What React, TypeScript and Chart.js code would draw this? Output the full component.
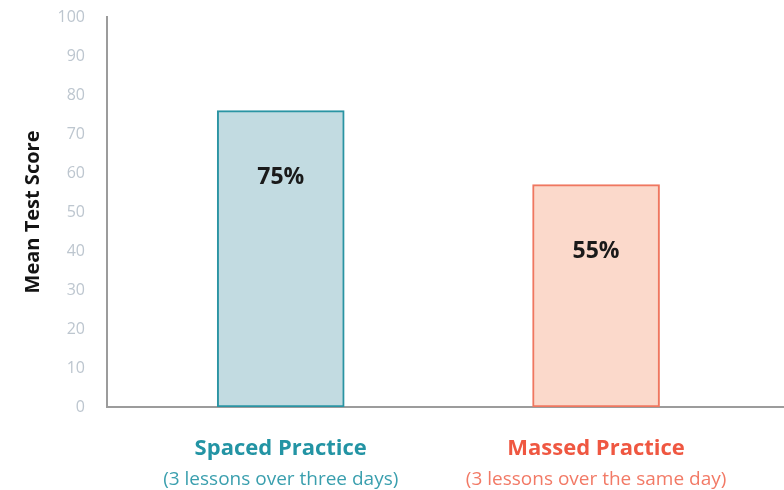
import React, { useEffect, useRef } from "react";
import { Chart, registerables } from "chart.js";

Chart.register(...registerables);

const categories = ["Spaced Practice", "Massed Practice"];
const subtitles = ["(3 lessons over three days)", "(3 lessons over the same day)"];
const scores = [76, 57];
const valueLabels = ["75%", "55%"];
const yTicks = [0, 10, 20, 30, 40, 50, 60, 70, 80, 90, 100];

const fills = ["#c2dbe1", "#fbd9cb"];
const borders = ["#2a94a3", "#ef7760"];
const titleColors = ["#2394a4", "#ef5741"];
const subColors = ["#3a9fae", "#f27a66"];

const FONT = "'Open Sans', 'Noto Sans', sans-serif";

const labelPlugin = {
  id: "customLabels",
  afterDatasetsDraw(chart: any) {
    const ctx = chart.ctx;
    const meta = chart.getDatasetMeta(0);
    const xs = chart.scales.x;
    ctx.save();
    ctx.textAlign = "center";
    ctx.textBaseline = "middle";
    meta.data.forEach((bar: any, i: number) => {
      ctx.fillStyle = "#1a1a1a";
      ctx.font = `bold 23px ${FONT}`;
      ctx.fillText(valueLabels[i], bar.x, bar.y + 67);
    });
    categories.forEach((c, i) => {
      const x = xs.getPixelForValue(i);
      ctx.fillStyle = titleColors[i];
      ctx.font = `bold 22px ${FONT}`;
      ctx.fillText(c, x, 449);
      ctx.fillStyle = subColors[i];
      ctx.font = `19px ${FONT}`;
      ctx.fillText(subtitles[i], x, 480);
    });
    ctx.restore();
  },
};

export default function App() {
  const ref = useRef<HTMLCanvasElement>(null);
  useEffect(() => {
    document.body.style.margin = "0";
    const chart = new Chart(ref.current!, {
      type: "bar",
      data: {
        datasets: [
          {
            data: scores.map((y, i) => ({ x: i, y })),
            backgroundColor: fills,
            borderColor: borders,
            borderWidth: 2,
            borderSkipped: false,
            barThickness: 127,
          },
        ],
      },
      options: {
        responsive: false,
        animation: false,
        layout: { padding: { top: 17, right: 0, left: 0, bottom: 0 } },
        plugins: { legend: { display: false }, tooltip: { enabled: false } },
        scales: {
          x: {
            type: "linear",
            offset: false,
            min: -0.551,
            max: 1.596,
            grid: { display: false },
            ticks: { display: false },
            border: { color: "#9c9c9c", width: 2 },
            afterFit: (s: any) => {
              s.height = 83;
              s.paddingLeft = 0;
              s.paddingRight = 0;
            },
          },
          y: {
            min: 0,
            max: 100,
            afterBuildTicks: (s: any) => {
              s.ticks = yTicks.map((v) => ({ value: v }));
            },
            grid: { display: false },
            border: { color: "#9c9c9c", width: 2 },
            ticks: {
              color: "#bdc6cf",
              font: { family: FONT, size: 16 },
              padding: 14,
            },
            title: {
              display: true,
              text: "Mean Test Score",
              color: "#141414",
              font: { family: FONT, size: 20, weight: "bold" },
              padding: { top: 21, bottom: 0 },
            },
            afterFit: (s: any) => {
              s.width = 107;
              s.paddingTop = 0;
              s.paddingBottom = 0;
            },
          },
        },
      },
      plugins: [labelPlugin],
    });
    return () => chart.destroy();
  }, []);
  return (
    <div style={{ position: "absolute", left: 0, top: 0, width: 784, height: 490 }}>
      <canvas ref={ref} width={784} height={490} style={{ width: 784, height: 490 }} />
    </div>
  );
}
